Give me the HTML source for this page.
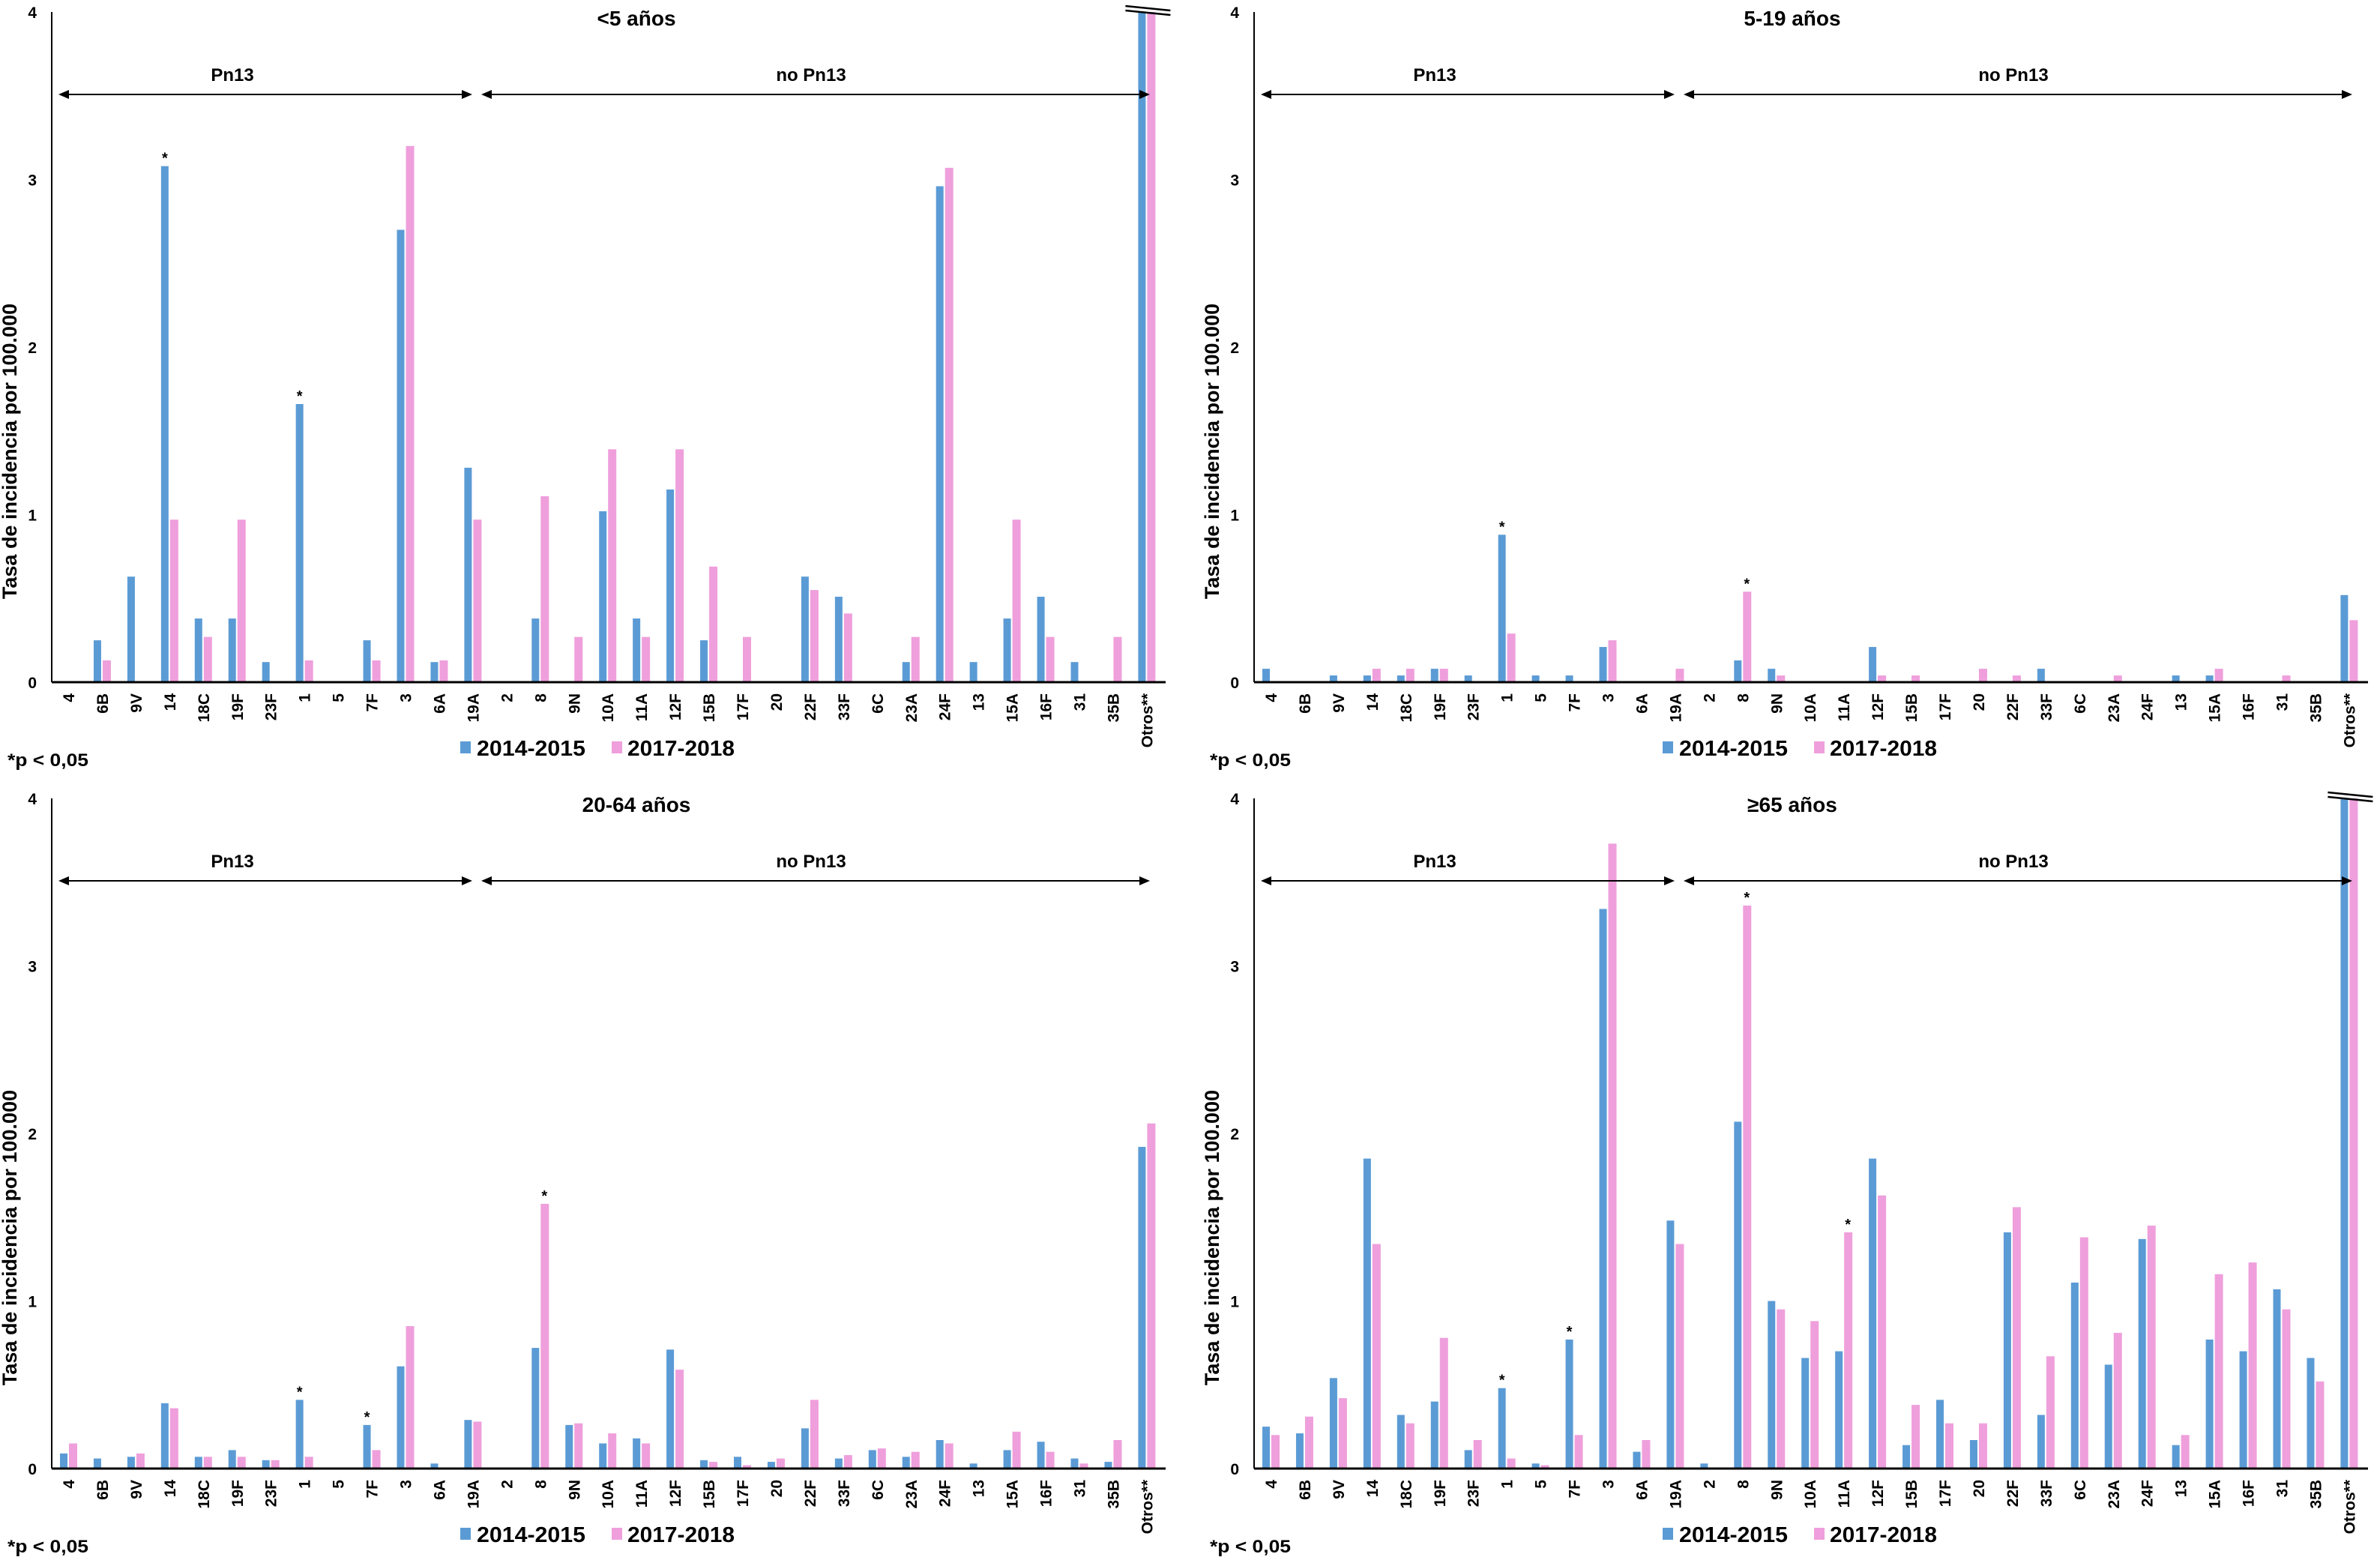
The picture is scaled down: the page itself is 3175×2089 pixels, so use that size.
<!DOCTYPE html>
<html><head><meta charset="utf-8"><style>
html,body{margin:0;padding:0;background:#fff;}
svg{display:block;font-family:"Liberation Sans",Arial,sans-serif;font-weight:bold;}
</style></head><body>
<svg id="chart" width="3175" height="2089" viewBox="0 0 3175 2089" xmlns="http://www.w3.org/2000/svg"></svg>
<script>
const categories = ["4","6B","9V","14","18C","19F","23F","1","5","7F","3","6A","19A","2","8","9N","10A","11A","12F","15B","17F","20","22F","33F","6C","23A","24F","13","15A","16F","31","35B","Otros**"];
const titles = ["<5 años","5-19 años","20-64 años","≥65 años"];
const yTicks = [0,1,2,3,4];
const a_blue = [0,0.25,0.63,3.08,0.38,0.38,0.12,1.66,0,0.25,2.7,0.12,1.28,0,0.38,0,1.02,0.38,1.15,0.25,0,0,0.63,0.51,0,0.12,2.96,0.12,0.38,0.51,0.12,0,4];
const a_pink = [0,0.13,0,0.97,0.27,0.97,0,0.13,0,0.13,3.2,0.13,0.97,0,1.11,0.27,1.39,0.27,1.39,0.69,0.27,0,0.55,0.41,0,0.27,3.07,0,0.97,0.27,0,0.27,4];
const b_blue = [0.08,0,0.04,0.04,0.04,0.08,0.04,0.88,0.04,0.04,0.21,0,0,0,0.13,0.08,0,0,0.21,0,0,0,0,0.08,0,0,0,0.04,0.04,0,0,0,0.52];
const b_pink = [0,0,0,0.08,0.08,0.08,0,0.29,0,0,0.25,0,0.08,0,0.54,0.04,0,0,0.04,0.04,0,0.08,0.04,0,0,0.04,0,0,0.08,0,0.04,0,0.37];
const c_blue = [0.09,0.06,0.07,0.39,0.07,0.11,0.05,0.41,0.005,0.26,0.61,0.03,0.29,0.003,0.72,0.26,0.15,0.18,0.71,0.05,0.07,0.04,0.24,0.06,0.11,0.07,0.17,0.03,0.11,0.16,0.06,0.04,1.92];
const c_pink = [0.15,0.005,0.09,0.36,0.07,0.07,0.05,0.07,0,0.11,0.85,0,0.28,0,1.58,0.27,0.21,0.15,0.59,0.04,0.02,0.06,0.41,0.08,0.12,0.1,0.15,0.005,0.22,0.1,0.03,0.17,2.06];
const d_blue = [0.25,0.21,0.54,1.85,0.32,0.4,0.11,0.48,0.03,0.77,3.34,0.1,1.48,0.03,2.07,1.0,0.66,0.7,1.85,0.14,0.41,0.17,1.41,0.32,1.11,0.62,1.37,0.14,0.77,0.7,1.07,0.66,4];
const d_pink = [0.2,0.31,0.42,1.34,0.27,0.78,0.17,0.06,0.02,0.2,3.73,0.17,1.34,0,3.36,0.95,0.88,1.41,1.63,0.38,0.27,0.27,1.56,0.67,1.38,0.81,1.45,0.2,1.16,1.23,0.95,0.52,4];
const a_star = [[3,0],[7,0]];
const b_star = [[7,0],[14,1]];
const c_star = [[7,0],[9,0],[14,1]];
const d_star = [[7,0],[9,0],[14,1],[17,1]];

const NS="http://www.w3.org/2000/svg";
const svg=document.getElementById('chart');
function mk(tag,attrs,parent){const e=document.createElementNS(NS,tag);for(const k in attrs)e.setAttribute(k,attrs[k]);(parent||svg).appendChild(e);return e;}
const BLUE="#5b9bd5", PINK="#ef9fdc";
const panels=[
 {dx:0,dy:0,blue:a_blue,pink:a_pink,star:a_star,title:titles[0],brk:true},
 {dx:1604,dy:0,blue:b_blue,pink:b_pink,star:b_star,title:titles[1],brk:false},
 {dx:0,dy:1049,blue:c_blue,pink:c_pink,star:c_star,title:titles[2],brk:false},
 {dx:1604,dy:1049,blue:d_blue,pink:d_pink,star:d_star,title:titles[3],brk:true}
];
panels.forEach((p,pi)=>{
  const g=mk('g',{});
  
  
  const y0=910+p.dy, unit=223.5;
  const yS=v=>y0-v*unit;
  const xS=i=>91+p.dx+i*44.95;
  const axX=69+p.dx;
  const ya=mk('line',{x1:axX,y1:yS(4),x2:axX,y2:y0,stroke:'#000','stroke-width':2},g);
  
  
  yTicks.forEach(t=>{
    const tx=mk('text',{x:axX-20,y:yS(t)+8,'font-size':21,'text-anchor':'end',fill:'#000'},g);
    tx.textContent=t;
    
    
  });
  const yt=mk('text',{transform:`translate(${22+p.dx},${602+p.dy}) rotate(-90)`,'font-size':27,'text-anchor':'middle',fill:'#000'},g);
  yt.textContent='Tasa de incidencia por 100.000';
  
  
  const tt=mk('text',{x:(p.dx?2391:849),y:34+p.dy,'font-size':28,'text-anchor':'middle',fill:'#000'},g);
  tt.textContent=p.title;
  
  
  categories.forEach((c,i)=>{
    const cx=xS(i);
    const bv=p.blue[i], pv=p.pink[i];
    const rb=mk('rect',{x:cx-11,y:yS(bv),width:10,height:y0-yS(bv),fill:BLUE},g);
    
    
    const rp=mk('rect',{x:cx+1,y:yS(pv),width:11,height:y0-yS(pv),fill:PINK},g);
    
    
    const lb=mk('text',{transform:`translate(${cx+8},${925+p.dy}) rotate(-90)`,'font-size':21,'text-anchor':'end',fill:'#000'},g);
    lb.textContent=c;
    
    
  });
  p.star.forEach(s=>{
    const i=s[0], v=s[1]?p.pink[i]:p.blue[i];
    const st=mk('text',{x:xS(i)+(s[1]?6:-6),y:yS(v)-4,'font-size':20,'text-anchor':'middle',fill:'#000'},g);
    st.textContent='*';
    
    
  });
  const xa=mk('line',{x1:axX,y1:y0,x2:axX+1486,y2:y0,stroke:'#000','stroke-width':3},g);
  
  
  if(p.brk){
    const bx=xS(32);
    const b1=mk('path',{d:`M${bx-28} ${yS(4)-8} L${bx+32} ${yS(4)-2} M${bx-28} ${yS(4)-2} L${bx+32} ${yS(4)+4}`,stroke:'#000','stroke-width':2.5,fill:'none'},g);
    
    
  }
  const ay=126+p.dy;
  const ar=[[p.dx+78,p.dx+630,'Pn13',p.dx+310],[p.dx+642,p.dx+1534,'no Pn13',p.dx+1082]];
  ar.forEach((a,k)=>{
    const l=mk('line',{x1:a[0]+10,y1:ay,x2:a[1]-10,y2:ay,stroke:'#000','stroke-width':2},g);
    
    
    const h=mk('path',{d:`M${a[0]} ${ay} L${a[0]+14} ${ay-6} L${a[0]+14} ${ay+6}Z M${a[1]} ${ay} L${a[1]-14} ${ay-6} L${a[1]-14} ${ay+6}Z`,fill:'#000'},g);
    
    
    const t=mk('text',{x:a[3],y:ay-18,'font-size':24,'text-anchor':'middle',fill:'#000'},g);
    t.textContent=a[2];
    
    
  });
  const lx=p.dx+614, ly=989+p.dy;
  const l1=mk('rect',{x:lx,y:ly,width:14,height:16,fill:BLUE},g);
  
  
  const t1=mk('text',{x:lx+22,y:ly+19,'font-size':29,fill:'#000',textLength:145,lengthAdjust:'spacingAndGlyphs'},g);
  t1.textContent='2014-2015';
  
  
  const l2=mk('rect',{x:lx+202,y:ly,width:14,height:16,fill:PINK},g);
  
  
  const t2=mk('text',{x:lx+223,y:ly+19,'font-size':29,fill:'#000',textLength:143,lengthAdjust:'spacingAndGlyphs'},g);
  t2.textContent='2017-2018';
  
  
  const fn=mk('text',{x:p.dx+10,y:1022+p.dy,'font-size':24,fill:'#000',textLength:108,lengthAdjust:'spacingAndGlyphs'},g);
  fn.textContent='*p < 0,05';
  
  
});
</script>
</body></html>
